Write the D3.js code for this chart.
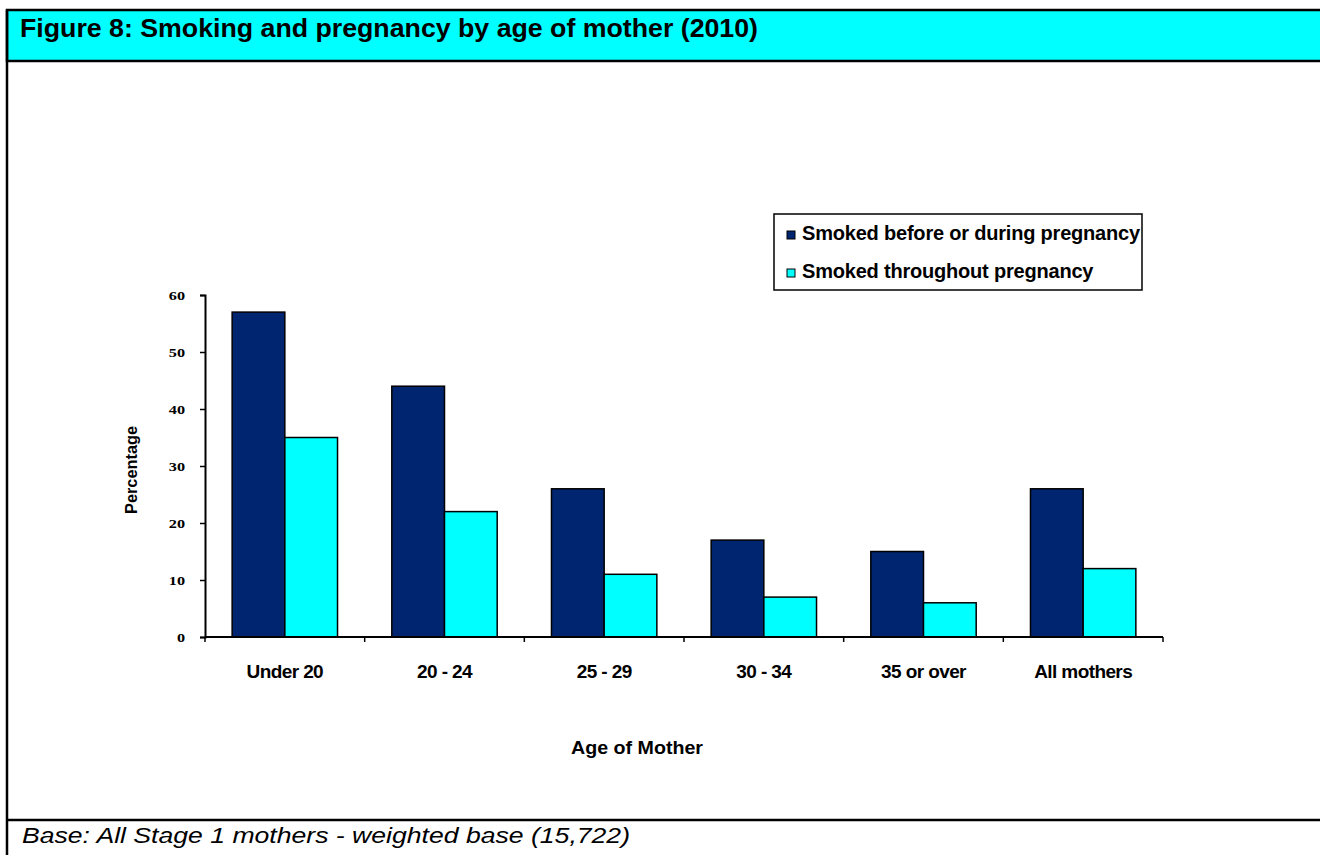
<!DOCTYPE html>
<html>
<head>
<meta charset="utf-8">
<script src="https://cdn.jsdelivr.net/npm/d3@7"></script>
<style>
  body { margin: 0; background: #fff; }
  svg { display: block; }
</style>
</head>
<body>
<svg width="1320" height="855"></svg>
<script>
var categories = ["Under 20", "20 - 24", "25 - 29", "30 - 34", "35 or over", "All mothers"];
var seriesNames = ["Smoked before or during pregnancy", "Smoked throughout pregnancy"];
var beforeOrDuring = [57, 44, 26, 17, 15, 26];
var throughout = [35, 22, 11, 7, 6, 12];
var yTicks = [0, 10, 20, 30, 40, 50, 60];

var colors = ["#002570", "#00ffff"];
var sans = "Arial, 'Liberation Sans', sans-serif";

var svg = d3.select("svg");

// stretch a text horizontally by a factor of its natural width
function stretch(sel, k) {
  sel.each(function() {
    var w = this.getComputedTextLength();
    d3.select(this).attr("textLength", w * k).attr("lengthAdjust", "spacingAndGlyphs");
  });
}

// frame: header band, body, footer
svg.append("rect").attr("x", 7).attr("y", 10).attr("width", 1330).attr("height", 51)
    .attr("fill", "#00ffff").attr("stroke", "#000").attr("stroke-width", 2.5);
svg.append("line").attr("x1", 7).attr("x2", 7).attr("y1", 10).attr("y2", 855)
    .attr("stroke", "#000").attr("stroke-width", 2.5);
svg.append("line").attr("x1", 7).attr("x2", 1320).attr("y1", 820).attr("y2", 820)
    .attr("stroke", "#000").attr("stroke-width", 2.5);

svg.append("text").attr("x", 20).attr("y", 37)
    .style("font-family", sans)
    .style("font-weight", "bold").style("font-size", "25px")
    .attr("textLength", 738).attr("lengthAdjust", "spacingAndGlyphs")
    .text("Figure 8: Smoking and pregnancy by age of mother (2010)");

svg.append("text").attr("x", 22).attr("y", 843)
    .style("font-family", sans)
    .style("font-style", "italic").style("font-size", "22px")
    .attr("textLength", 608).attr("lengthAdjust", "spacingAndGlyphs")
    .text("Base: All Stage 1 mothers - weighted base (15,722)");

var plotLeft = 205, plotRight = 1163, plotTop = 295, plotBottom = 637;

var x0 = d3.scaleBand().domain(categories).range([plotLeft, plotRight])
    .paddingInner(0.34).paddingOuter(0.17);
var x1 = d3.scaleBand().domain([0, 1]).range([0, x0.bandwidth()]);
var y = d3.scaleLinear().domain([0, 60]).range([plotBottom, plotTop]);

var g = svg.append("g");

var groups = g.selectAll(".grp")
  .data(categories)
  .enter().append("g")
    .attr("class", "grp")
    .attr("transform", function(d) { return "translate(" + x0(d) + ",0)"; });

groups.selectAll("rect")
  .data(function(d, i) { return [beforeOrDuring[i], throughout[i]]; })
  .enter().append("rect")
    .attr("x", function(d, j) { return x1(j); })
    .attr("y", function(d) { return y(d); })
    .attr("width", x1.bandwidth())
    .attr("height", function(d) { return y(0) - y(d); })
    .attr("fill", function(d, j) { return colors[j]; })
    .attr("stroke", "#000").attr("stroke-width", 1.5);

// y axis
var yAxis = g.append("g").attr("transform", "translate(" + plotLeft + ",0)")
    .call(d3.axisLeft(y).tickValues(yTicks).tickSize(5).tickPadding(15));
yAxis.select(".domain").attr("stroke-width", 2);
yAxis.selectAll("line").attr("stroke-width", 1.5);
yAxis.selectAll("text")
    .style("font-family", "'Times New Roman', 'Liberation Serif', serif")
    .style("font-weight", "bold").style("font-size", "13px").attr("fill", "#000")
    .call(stretch, 1.25);

// x axis: ticks at category boundaries
var step = x0.step();
var xBounds = d3.range(categories.length + 1).map(function(i) { return plotLeft + i * step; });
g.append("line").attr("x1", plotLeft).attr("x2", plotRight).attr("y1", plotBottom).attr("y2", plotBottom)
    .attr("stroke", "#000").attr("stroke-width", 2);
g.selectAll(".xtick").data(xBounds).enter().append("line")
    .attr("class", "xtick")
    .attr("x1", function(d) { return d; }).attr("x2", function(d) { return d; })
    .attr("y1", plotBottom).attr("y2", plotBottom + 5)
    .attr("stroke", "#000").attr("stroke-width", 1.5);
g.selectAll(".xlab").data(categories).enter().append("text")
    .attr("class", "xlab")
    .attr("x", function(d) { return x0(d) + x0.bandwidth() / 2; })
    .attr("y", 678)
    .attr("text-anchor", "middle")
    .style("font-family", sans)
    .style("font-weight", "bold").style("font-size", "19px")
    .style("letter-spacing", "-0.6px")
    .text(function(d) { return d; });

svg.append("text")
    .attr("transform", "translate(137,470) rotate(-90)")
    .attr("text-anchor", "middle")
    .style("font-family", sans)
    .style("font-weight", "bold").style("font-size", "16px")
    .attr("textLength", 88).attr("lengthAdjust", "spacingAndGlyphs")
    .text("Percentage");

svg.append("text")
    .attr("x", 637).attr("y", 754)
    .attr("text-anchor", "middle")
    .style("font-family", sans)
    .style("font-weight", "bold").style("font-size", "18px")
    .attr("textLength", 132).attr("lengthAdjust", "spacingAndGlyphs")
    .text("Age of Mother");

// legend
var legend = svg.append("g").attr("transform", "translate(774,214)");
legend.append("rect").attr("width", 368).attr("height", 76)
    .attr("fill", "#fff").attr("stroke", "#000").attr("stroke-width", 1.5);
var items = legend.selectAll(".item").data(seriesNames).enter().append("g")
    .attr("class", "item")
    .attr("transform", function(d, i) { return "translate(13," + (17 + i * 38) + ")"; });
items.append("rect").attr("width", 8).attr("height", 8)
    .attr("fill", function(d, i) { return colors[i]; })
    .attr("stroke", "#000").attr("stroke-width", 1);
items.append("text").attr("x", 15).attr("y", 9)
    .style("font-family", sans)
    .style("font-weight", "bold").style("font-size", "20px")
    .style("letter-spacing", "-0.2px")
    .text(function(d) { return d; });
</script>
</body>
</html>
